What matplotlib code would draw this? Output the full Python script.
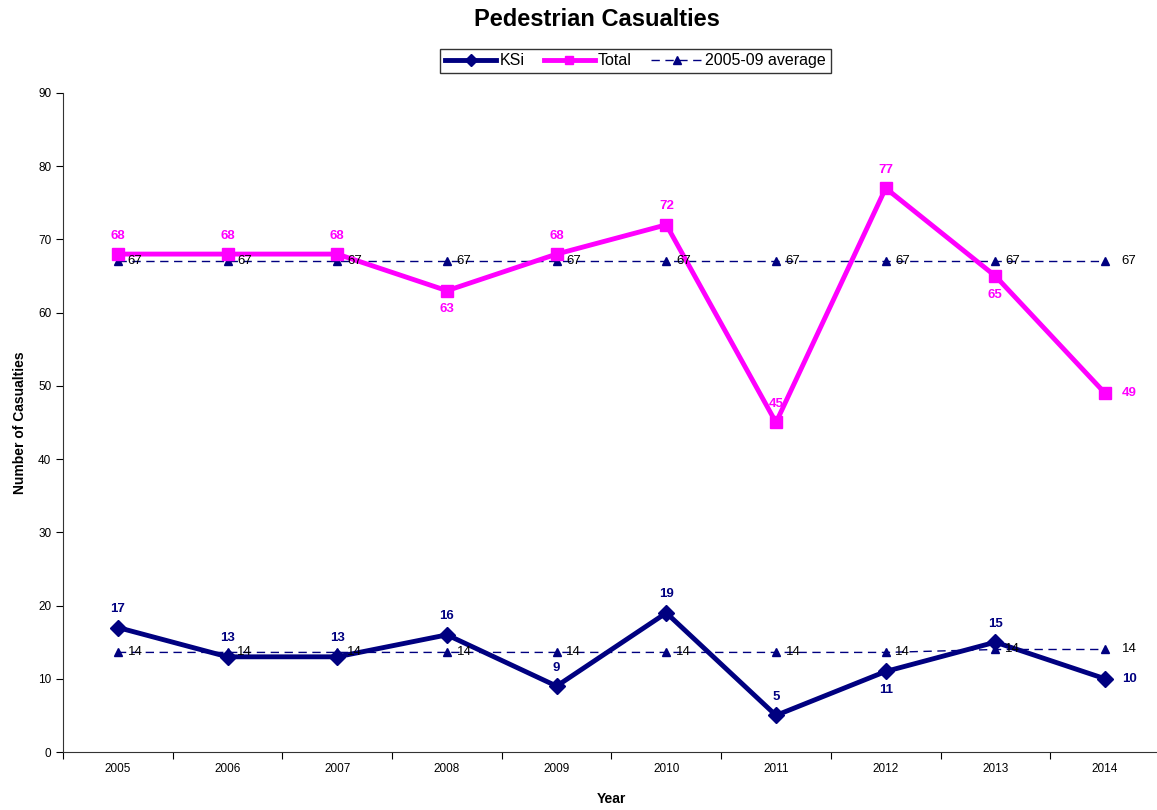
import matplotlib
matplotlib.use("Agg")
import matplotlib.pyplot as plt

plt.rcParams["font.family"] = ["Liberation Sans", "DejaVu Sans"]

years = ["2005", "2006", "2007", "2008", "2009", "2010", "2011", "2012", "2013", "2014"]
ksi = [17, 13, 13, 16, 9, 19, 5, 11, 15, 10]
total = [68, 68, 68, 63, 68, 72, 45, 77, 65, 49]
avg_total = [67, 67, 67, 67, 67, 67, 67, 67, 67, 67]
avg_ksi = [13.6, 13.6, 13.6, 13.6, 13.6, 13.6, 13.6, 13.6, 14.0, 14.0]

NAVY = "#000080"
MAG = "#FF00FF"

fig = plt.figure(figsize=(11.57, 8.10), dpi=100)
ax = fig.add_axes([0.0545, 0.0716, 0.948, 0.8136])
x = list(range(len(years)))

ax.plot(x, ksi, color=NAVY, lw=3.5, marker="D", ms=8, label="KSi", zorder=4)
ax.plot(x, total, color=MAG, lw=3.5, marker="s", ms=9, label="Total", zorder=4)
ax.plot(x, avg_total, color=NAVY, lw=1, ls=(0, (6, 4)), marker="^", ms=6,
        label="2005-09 average", zorder=3)
ax.plot(x, avg_ksi, color=NAVY, lw=1, ls=(0, (6, 4)), marker="^", ms=6, zorder=3)

# data labels: above by default, a few below, last point to the right
def put_labels(vals, color, below):
    for i, v in enumerate(vals):
        if i == len(vals) - 1:
            ax.annotate(str(v), (i, v), xytext=(12, 0), textcoords="offset points",
                        ha="left", va="center", color=color, fontweight="bold", fontsize=9.5)
        elif i in below:
            ax.annotate(str(v), (i, v), xytext=(0, -9), textcoords="offset points",
                        ha="center", va="top", color=color, fontweight="bold", fontsize=9.5)
        else:
            ax.annotate(str(v), (i, v), xytext=(0, 9), textcoords="offset points",
                        ha="center", va="bottom", color=color, fontweight="bold", fontsize=9.5)

put_labels(total, MAG, {3, 8})
put_labels(ksi, NAVY, {7})

for series in (avg_total, avg_ksi):
    for i, v in enumerate(series):
        ax.annotate(f"{v:.0f}", (i, v), xytext=(7 if i < len(series) - 1 else 12, 0),
                    textcoords="offset points", ha="left", va="center",
                    color="black", fontsize=9.5, zorder=5)

ax.set_xlim(-0.5, len(years) - 0.5)
ax.set_ylim(0, 90)
ax.set_yticks(range(0, 91, 10))
ax.set_xticks(x)
ax.set_xticklabels(years, fontsize=8.5)
ax.set_xticks([i - 0.5 for i in range(len(years) + 1)], minor=True)
ax.tick_params(axis="x", which="major", length=0, pad=8)
ax.tick_params(axis="x", which="minor", length=5, direction="out", width=0.8)
ax.tick_params(axis="y", length=5, direction="out", width=0.8, labelsize=8.5)
for s in ("top", "right"):
    ax.spines[s].set_visible(False)
for s in ("left", "bottom"):
    ax.spines[s].set_linewidth(0.8)
    ax.spines[s].set_color("#333333")

ax.set_xlabel("Year", fontweight="bold", fontsize=10, labelpad=12)
ax.set_ylabel("Number of Casualties", fontweight="bold", fontsize=10, labelpad=8)

fig.suptitle("Pedestrian Casualties", fontweight="bold", fontsize=17, x=0.516, y=0.99)
leg = ax.legend(loc="lower center", bbox_to_anchor=(0.522, 1.03), ncol=3, fontsize=11.5,
                frameon=True, fancybox=False, edgecolor="black", handlelength=3.2,
                borderpad=0.3, columnspacing=1.2, handletextpad=0.2, borderaxespad=0)
leg.get_frame().set_linewidth(1)
for h in leg.get_lines():
    h.set_markersize(6)

fig.savefig("out.png", dpi=100)
